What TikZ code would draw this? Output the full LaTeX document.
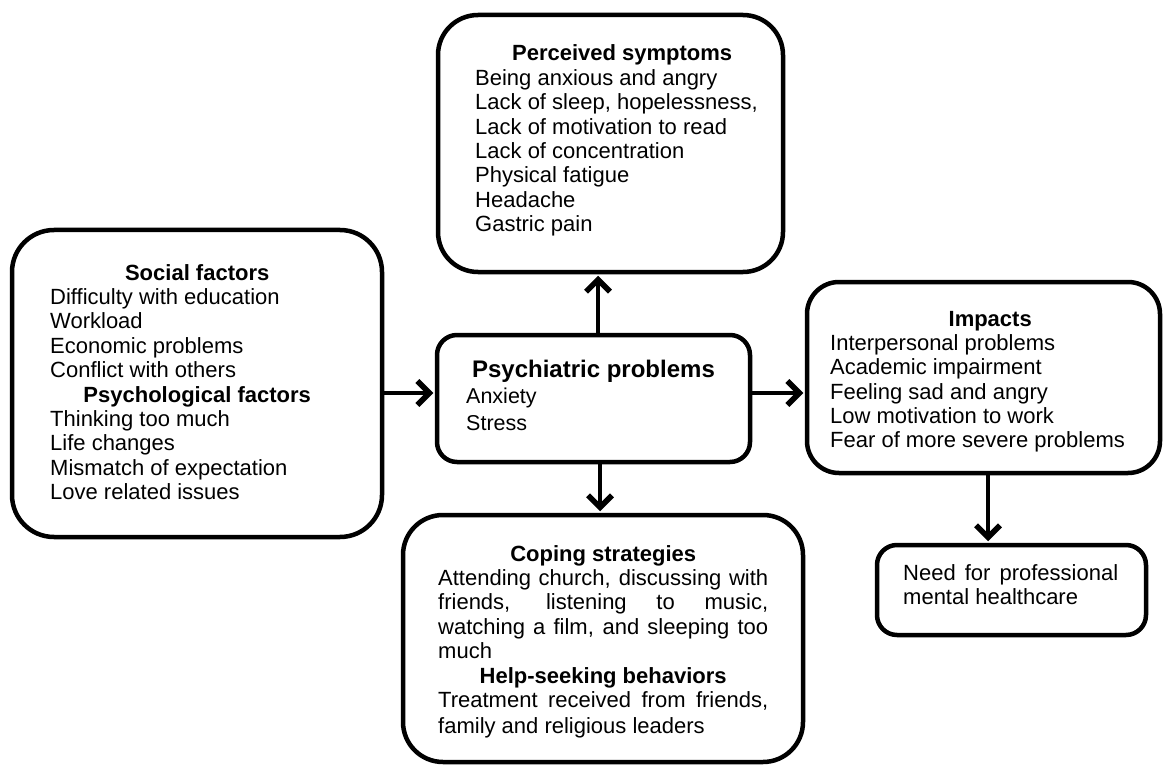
\documentclass[tikz,border=0pt]{standalone}
\usepackage{fontspec}
\setmainfont{Liberation Sans}
\usetikzlibrary{arrows.meta}

\tikzset{
  panel/.style={draw, line width=4.5pt, rectangle, inner sep=0pt},
  txt/.style={inner sep=0pt, anchor=base west, font=\fontsize{22}{24.4}\selectfont},
  arr/.style={line width=3.8pt, -{Straight Barb[length=12pt,width=24pt,line width=5.5pt]}, shorten >=1.5pt},
}

\begin{document}
\begin{tikzpicture}[x=1pt, y=-1pt]
\useasboundingbox (0,0) rectangle (1163,765);

% frames
\node[panel, rounded corners=40pt, minimum width=345pt, minimum height=257pt] (sympt) at (610.5,143.5) {};
\node[panel, rounded corners=42pt, minimum width=370pt, minimum height=307pt] (factors) at (197,383.5) {};
\node[panel, rounded corners=20pt, minimum width=313pt, minimum height=127pt] (psych) at (593.5,398.5) {};
\node[panel, rounded corners=32pt, minimum width=353pt, minimum height=191pt] (impacts) at (983.5,377.5) {};
\node[panel, rounded corners=40pt, minimum width=400pt, minimum height=247pt] (coping) at (603,638.5) {};
\node[panel, rounded corners=20pt, minimum width=269pt, minimum height=90pt] (need) at (1011.5,590) {};

% contents
\node[txt] (symptText) at (475,61) {\parbox[t]{294pt}{\centering\bfseries Perceived symptoms\par
  \raggedright\mdseries Being anxious and angry\\
  Lack of sleep, hopelessness,\\
  Lack of motivation to read\\
  Lack of concentration\\
  Physical fatigue\\
  Headache\\
  Gastric pain}};

\node[txt] (factorsText) at (50,280) {\parbox[t]{294pt}{\centering\bfseries Social factors\par
  \raggedright\mdseries Difficulty with education\\
  Workload\\
  Economic problems\\
  Conflict with others\par
  \centering\bfseries Psychological factors\par
  \raggedright\mdseries Thinking too much\\
  Life changes\\
  Mismatch of expectation\\
  Love related issues}};

\node[inner sep=0pt, anchor=base, font=\fontsize{24}{27}\selectfont\bfseries] (psychTitle) at (593.5,377) {Psychiatric problems};
\node[txt] (psychText) at (466,403) {\parbox[t]{250pt}{\fontsize{21.5}{27}\selectfont Anxiety\\ Stress}};

\node[txt] (impactsText) at (830,326) {\parbox[t]{320pt}{\centering\bfseries Impacts\par
  \raggedright\mdseries Interpersonal problems\\
  Academic impairment\\
  Feeling sad and angry\\
  Low motivation to work\\
  Fear of more severe problems}};

\node[txt] (copingText) at (438,561) {\parbox[t]{330pt}{\centering\bfseries Coping strategies\par
  \raggedright\mdseries
  \makebox[330pt][s]{Attending church, discussing with}\\
  \makebox[330pt][s]{friends, listening to music,}\\
  \makebox[330pt][s]{watching a film, and sleeping too}\\
  much\par
  \centering\bfseries Help-seeking behaviors\par
  \raggedright\mdseries
  \makebox[330pt][s]{Treatment received from friends,}\\[1.6pt]
  family and religious leaders}};

\node[txt] (needText) at (903,580) {\parbox[t]{215pt}{\raggedright
  \makebox[215pt][s]{Need for professional}\\
  mental healthcare}};

% connectors
\draw[arr] (factors.east |- 0,393) -- (psych.west |- 0,393);
\draw[arr] (psych.north -| 598,0) -- (sympt.south -| 598,0);
\draw[arr] (psych.south -| 600,0) -- (coping.north -| 600,0);
\draw[arr] (psych.east |- 0,393) -- (impacts.west |- 0,393);
\draw[arr] (impacts.south -| 988,0) -- (need.north -| 988,0);
\end{tikzpicture}
\end{document}
